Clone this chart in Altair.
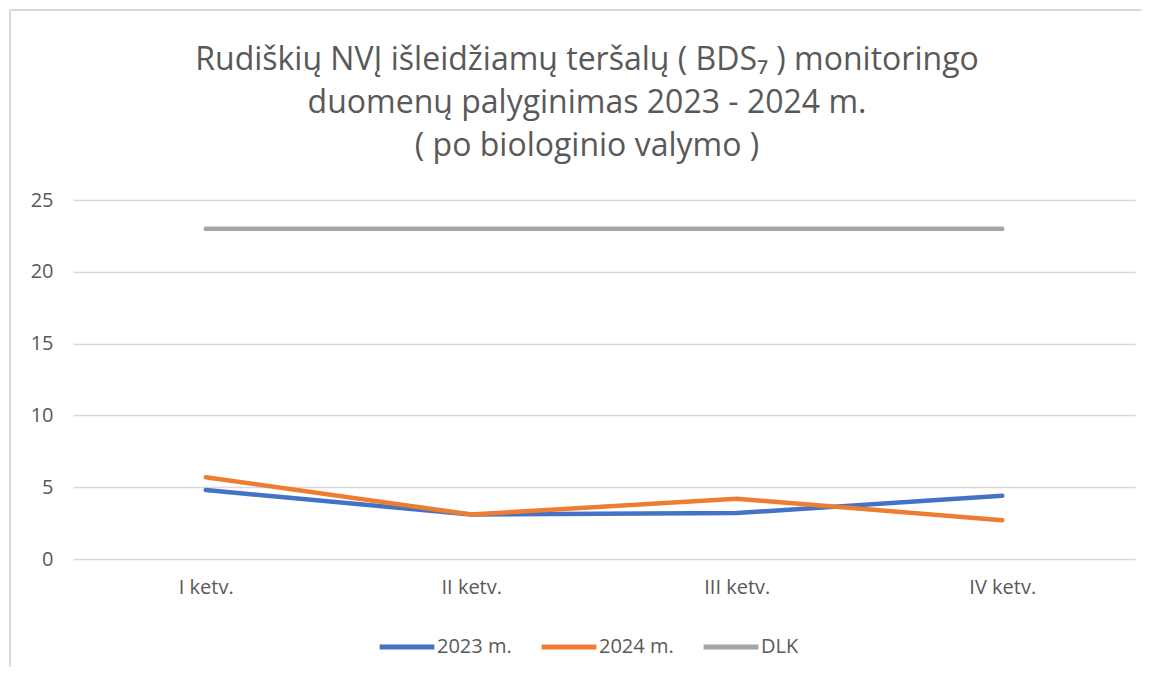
import altair as alt
import pandas as pd

categories = ["I ketv.", "II ketv.", "III ketv.", "IV ketv."]
series_names = ["2023 m.", "2024 m.", "DLK"]
values_2023 = [4.8, 3.1, 3.2, 4.4]
values_2024 = [5.7, 3.1, 4.2, 2.7]
values_dlk = [23, 23, 23, 23]
colors = ["#4472C4", "#ED7D31", "#A5A5A5"]

rows = []
for name, vals in zip(series_names, [values_2023, values_2024, values_dlk]):
    for c, v in zip(categories, vals):
        rows.append({"Ketvirtis": c, "Serija": name, "Reikšmė": v})
df = pd.DataFrame(rows)

FONT = "Open Sans"
TXT = "#595959"

lines = alt.Chart(df).mark_line(strokeWidth=4.5, strokeCap="round", strokeJoin="round").encode(
    x=alt.X("Ketvirtis:N", sort=categories, title=None,
            scale=alt.Scale(type="point", padding=0.5),
            axis=alt.Axis(labelAngle=0, labelPadding=18, ticks=False, domain=False,
                          grid=False, labelFontSize=20, labelColor=TXT, labelFont=FONT)),
    y=alt.Y("Reikšmė:Q", title=None,
            scale=alt.Scale(domain=[0, 25], nice=False),
            axis=alt.Axis(values=[0, 5, 10, 15, 20, 25], labelPadding=20, ticks=False,
                          domain=False, gridColor="#D9D9D9", gridWidth=1.3,
                          labelFontSize=20, labelColor=TXT, labelFont=FONT)),
    color=alt.Color("Serija:N", sort=series_names,
                    scale=alt.Scale(domain=series_names, range=colors),
                    legend=alt.Legend(title=None, orient="none", direction="horizontal",
                                      legendX=304, legendY=417,
                                      symbolType="stroke", symbolSize=3000,
                                      symbolStrokeWidth=5, labelFontSize=20,
                                      labelColor=TXT, labelFont=FONT, labelOffset=0,
                                      columnPadding=19)),
    order=alt.Order("Serija:N"),
)

top_border = alt.Chart(df).mark_rule(color="#D9D9D9", strokeWidth=1.5).encode(
    x=alt.value(-63), x2=alt.value(1076), y=alt.value(-190)
)
left_border = alt.Chart(df).mark_rule(color="#D9D9D9", strokeWidth=1.5).encode(
    x=alt.value(-63), y=alt.value(-190), y2=alt.value(475)
)

chart = alt.layer(lines, top_border, left_border).properties(
    width=1062,
    height=359,
    autosize=alt.AutoSizeParams(type="none"),
    padding={"left": 65, "top": 192, "right": 6, "bottom": 108},
    title=alt.TitleParams(
        text=["Rudiškių NVĮ išleidžiamų teršalų ( BDS₇ ) monitoringo",
              "duomenų palyginimas 2023 - 2024 m.",
              "( po biologinio valymo )"],
        fontSize=32, font=FONT, fontWeight="normal", color=TXT,
        lineHeight=43, offset=36, dy=190, anchor="middle", dx=-17,
    ),
).configure_view(stroke=None)

chart.save("out.html", embed_options={"renderer": "svg", "actions": False})
